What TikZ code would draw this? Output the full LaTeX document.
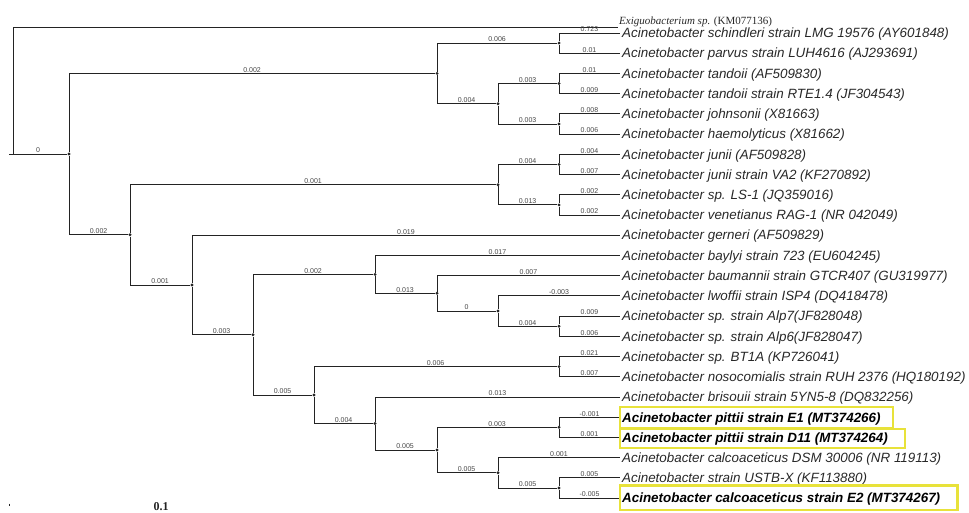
\documentclass[tikz,border=0pt]{standalone}
\usepackage{fontspec}
\setmainfont{Liberation Serif}
\setsansfont{Liberation Sans}
\usetikzlibrary{positioning,calc}

\definecolor{branchgray}{RGB}{35,35,35}
\definecolor{labelgray}{RGB}{70,70,70}
\definecolor{leafgray}{RGB}{40,40,40}
\definecolor{hlyellow}{RGB}{232,226,58}

\begin{document}
\begin{tikzpicture}[
    x=1pt, y=-1pt,
    branch/.style={draw=branchgray, line width=0.9pt},
    blabel/.style={font=\sffamily\fontsize{7}{8}\selectfont, text=labelgray, inner sep=0pt, above=0.6pt, pos=0.75},
    dot/.style={circle, fill=branchgray, minimum size=3.2pt, inner sep=0pt},
    leaf/.style={anchor=west, inner xsep=2pt, inner ysep=0pt, text height=9.6pt, text depth=0pt, text=leafgray,
        font=\sffamily\itshape\fontsize{13.4}{15}\selectfont},
    ourleaf/.style={leaf, text=black, font=\sffamily\bfseries\itshape\fontsize{13.4}{15}\selectfont},
    hlbox/.style={draw=hlyellow, line width=2.4pt},
]
\useasboundingbox (0,0) rectangle (969,513);

% ---- Leaves ----
\node[anchor=base west, inner sep=0pt, text=leafgray, font=\rmfamily\fontsize{11}{13}\selectfont] (lExi) at (619,24.8) {\textit{Exiguobacterium sp.} (KM077136)};
\node[leaf] (l1) at (620,33.0) {Acinetobacter schindleri strain LMG 19576 (AY601848)};
\node[leaf] (l2) at (620,53.2) {Acinetobacter parvus strain LUH4616 (AJ293691)};
\node[leaf] (l3) at (620,73.4) {Acinetobacter tandoii (AF509830)};
\node[leaf] (l4) at (620,93.7) {Acinetobacter tandoii strain RTE1.4 (JF304543)};
\node[leaf] (l5) at (620,113.9) {Acinetobacter johnsonii (X81663)};
\node[leaf] (l6) at (620,134.1) {Acinetobacter haemolyticus (X81662)};
\node[leaf] (l7) at (620,154.3) {Acinetobacter junii (AF509828)};
\node[leaf] (l8) at (620,174.5) {Acinetobacter junii strain VA2 (KF270892)};
\node[leaf] (l9) at (620,194.8) {Acinetobacter sp. LS-1 (JQ359016)};
\node[leaf] (l10) at (620,215.0) {Acinetobacter venetianus RAG-1 (NR 042049)};
\node[leaf] (l11) at (620,235.2) {Acinetobacter gerneri (AF509829)};
\node[leaf] (l12) at (620,255.4) {Acinetobacter baylyi strain 723 (EU604245)};
\node[leaf] (l13) at (620,275.6) {Acinetobacter baumannii strain GTCR407 (GU319977)};
\node[leaf] (l14) at (620,295.9) {Acinetobacter lwoffii strain ISP4 (DQ418478)};
\node[leaf] (l15) at (620,316.1) {Acinetobacter sp. strain Alp7(JF828048)};
\node[leaf] (l16) at (620,336.3) {Acinetobacter sp. strain Alp6(JF828047)};
\node[leaf] (l17) at (620,356.5) {Acinetobacter sp. BT1A (KP726041)};
\node[leaf] (l18) at (620,376.7) {Acinetobacter nosocomialis strain RUH 2376 (HQ180192)};
\node[leaf] (l19) at (620,397.0) {Acinetobacter brisouii strain 5YN5-8 (DQ832256)};
\node[ourleaf] (l20) at (620,417.2) {Acinetobacter pittii strain E1 (MT374266)};
\node[ourleaf] (l21) at (620,437.4) {Acinetobacter pittii strain D11 (MT374264)};
\node[leaf] (l22) at (620,457.6) {Acinetobacter calcoaceticus DSM 30006 (NR 119113)};
\node[leaf] (l23) at (620,477.8) {Acinetobacter strain USTB-X (KF113880)};
\node[ourleaf] (l24) at (620,498.1) {Acinetobacter calcoaceticus strain E2 (MT374267)};

% ---- Internal nodes ----
\node[dot] (nA) at (69,154.1) {};
\node[dot] (nB) at (437,73.4) {};
\node[dot] (nC) at (559,43.1) {};
\node[dot] (nD) at (498,103.8) {};
\node[dot] (nE) at (559,83.5) {};
\node[dot] (nF) at (559,124.0) {};
\node[dot] (nG) at (130,234.8) {};
\node[dot] (nH) at (498,184.7) {};
\node[dot] (nJ) at (559,164.4) {};
\node[dot] (nK) at (559,204.9) {};
\node[dot] (nI) at (192,285.0) {};
\node[dot] (nL) at (253,334.7) {};
\node[dot] (nM) at (375,274.4) {};
\node[dot] (nO) at (437,293.3) {};
\node[dot] (nP) at (498,311.0) {};
\node[dot] (nQ) at (559,326.2) {};
\node[dot] (nN) at (314,395.0) {};
\node[dot] (nR) at (559,366.6) {};
\node[dot] (nS) at (375,423.5) {};
\node[dot] (nT) at (437,450.0) {};
\node[dot] (nU) at (559,427.3) {};
\node[dot] (nV) at (498,472.8) {};
\node[dot] (nW) at (559,488.0) {};

% ---- Root and outgroup ----
\coordinate (root) at (9,154.1);
\coordinate (outroot) at (13,154.1);
\coordinate (exitip) at (618,27);
\draw[branch] (root) -- node[blabel, pos=0.5] {0} (nA);
\draw[branch] (outroot) |- (exitip);

% ---- Upper clade ----
\draw[branch] (nA) |- node[blabel] {0.002} (nB);
\draw[branch] (nB) |- node[blabel] {0.006} (nC);
\draw[branch] (nB) |- node[blabel] {0.004} (nD);
\draw[branch] (nC) |- node[blabel] {0.723} (l1);
\draw[branch] (nC) |- node[blabel] {0.01} (l2);
\draw[branch] (nD) |- node[blabel] {0.003} (nE);
\draw[branch] (nD) |- node[blabel] {0.003} (nF);
\draw[branch] (nE) |- node[blabel] {0.01} (l3);
\draw[branch] (nE) |- node[blabel] {0.009} (l4);
\draw[branch] (nF) |- node[blabel] {0.008} (l5);
\draw[branch] (nF) |- node[blabel] {0.006} (l6);

% ---- Lower clade ----
\draw[branch] (nA) |- node[blabel] {0.002} (nG);
\draw[branch] (nG) |- node[blabel] {0.001} (nH);
\draw[branch] (nG) |- node[blabel] {0.001} (nI);
\draw[branch] (nH) |- node[blabel] {0.004} (nJ);
\draw[branch] (nH) |- node[blabel] {0.013} (nK);
\draw[branch] (nJ) |- node[blabel] {0.004} (l7);
\draw[branch] (nJ) |- node[blabel] {0.007} (l8);
\draw[branch] (nK) |- node[blabel] {0.002} (l9);
\draw[branch] (nK) |- node[blabel] {0.002} (l10);
\draw[branch] (nI) |- node[blabel] {0.019} (l11);
\draw[branch] (nI) |- node[blabel] {0.003} (nL);
\draw[branch] (nL) |- node[blabel] {0.002} (nM);
\draw[branch] (nL) |- node[blabel] {0.005} (nN);
\draw[branch] (nM) |- node[blabel] {0.017} (l12);
\draw[branch] (nM) |- node[blabel] {0.013} (nO);
\draw[branch] (nO) |- node[blabel] {0.007} (l13);
\draw[branch] (nO) |- node[blabel] {0} (nP);
\draw[branch] (nP) |- node[blabel] {-0.003} (l14);
\draw[branch] (nP) |- node[blabel] {0.004} (nQ);
\draw[branch] (nQ) |- node[blabel] {0.009} (l15);
\draw[branch] (nQ) |- node[blabel] {0.006} (l16);
\draw[branch] (nN) |- node[blabel] {0.006} (nR);
\draw[branch] (nN) |- node[blabel] {0.004} (nS);
\draw[branch] (nR) |- node[blabel] {0.021} (l17);
\draw[branch] (nR) |- node[blabel] {0.007} (l18);
\draw[branch] (nS) |- node[blabel] {0.013} (l19);
\draw[branch] (nS) |- node[blabel] {0.005} (nT);
\draw[branch] (nT) |- node[blabel] {0.003} (nU);
\draw[branch] (nT) |- node[blabel] {0.005} (nV);
\draw[branch] (nU) |- node[blabel] {-0.001} (l20);
\draw[branch] (nU) |- node[blabel] {0.001} (l21);
\draw[branch] (nV) |- node[blabel] {0.001} (l22);
\draw[branch] (nV) |- node[blabel] {0.005} (nW);
\draw[branch] (nW) |- node[blabel] {0.005} (l23);
\draw[branch] (nW) |- node[blabel] {-0.005} (l24);

% ---- Highlight boxes ----
\draw[hlbox] ([yshift=10pt]l20.west) rectangle ([xshift=10pt, yshift=-10.5pt]l20.east);
\draw[hlbox] ([yshift=8.5pt]l21.west) rectangle ([xshift=15pt, yshift=-10.5pt]l21.east);
\draw[hlbox] ([yshift=12.5pt]l24.west) rectangle ([xshift=15pt, yshift=-12pt]l24.east);

% ---- Scale ----
\draw[branch, line width=0.6pt] (9,503.5) -- (9,506);
\node[font=\rmfamily\bfseries\fontsize{12}{14}\selectfont, text=branchgray] (scalebar) at (161,507) {0.1};

\end{tikzpicture}
\end{document}
